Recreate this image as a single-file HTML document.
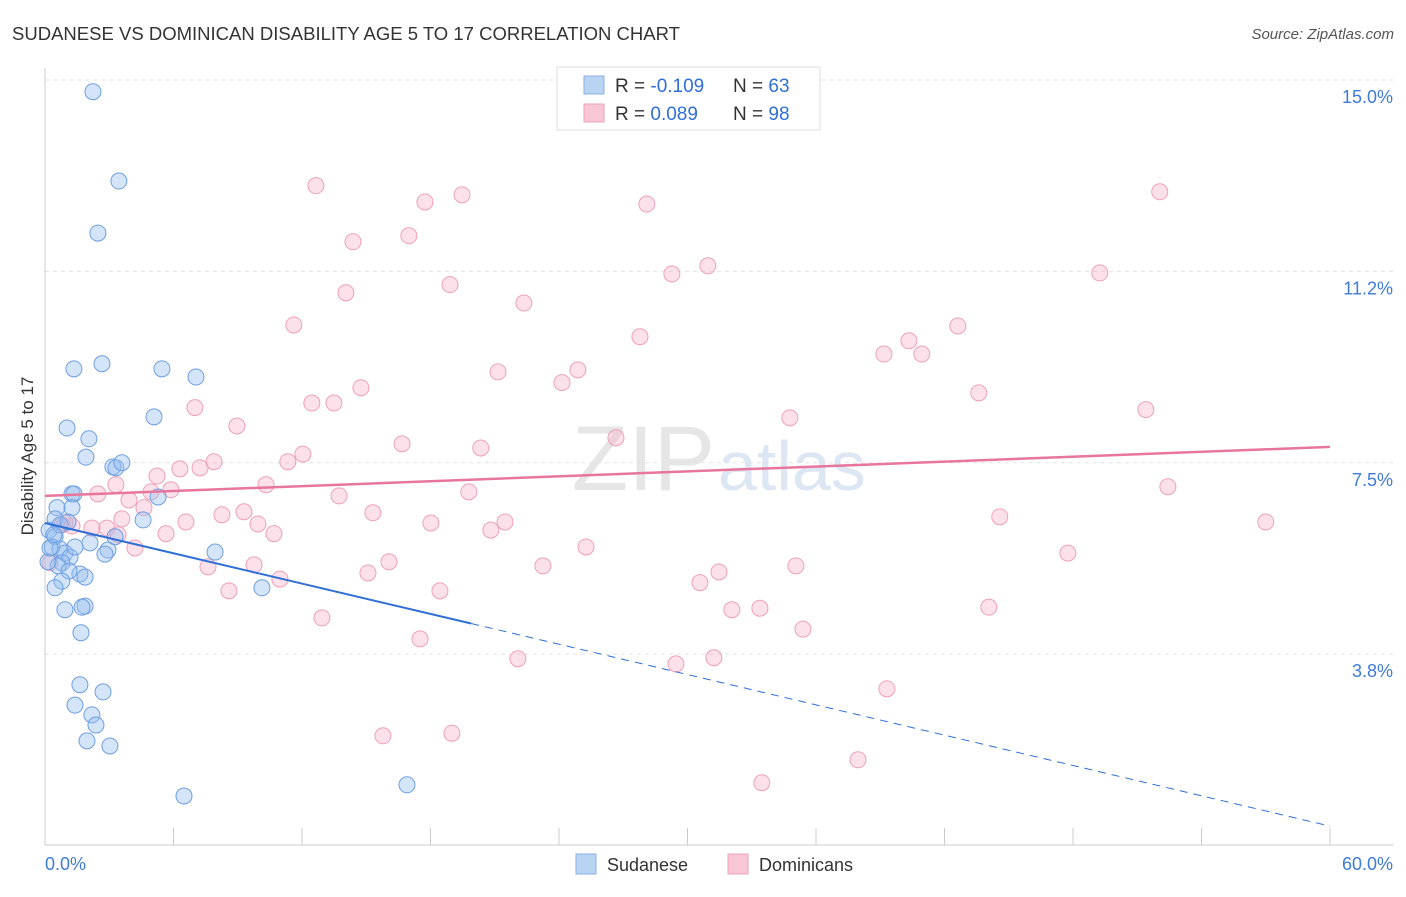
<!DOCTYPE html>
<html><head><meta charset="utf-8"><style>
body{margin:0;background:#fff;font-family:"Liberation Sans",sans-serif}
svg text{font-family:"Liberation Sans",sans-serif}
</style></head><body>
<svg id="chart" width="1406" height="892" xmlns="http://www.w3.org/2000/svg">
<text x="12" y="40" font-size="18" fill="#333" textLength="668" lengthAdjust="spacingAndGlyphs">SUDANESE VS DOMINICAN DISABILITY AGE 5 TO 17 CORRELATION CHART</text>
<text x="1394" y="39" font-size="15" fill="#555" text-anchor="end" font-style="italic">Source: ZipAtlas.com</text>
<text x="715" y="490" font-size="92" fill="#e6e6e6" text-anchor="end" font-family="Liberation Serif">ZIP</text>
<text x="718" y="490" font-size="70" fill="#dde6f3">atlas</text>
<g id="grid"></g>
<g id="axes"></g>
<g id="marks"></g>
<g id="trends"></g>
<text transform="translate(33,456) rotate(-90)" font-size="17" fill="#333" text-anchor="middle">Disability Age 5 to 17</text>
<g>
<rect x="557" y="67" width="263" height="63" fill="#fff" stroke="#ddd"/>
<rect x="584" y="76" width="20" height="18" fill="#b9d3f3" stroke="#8ab2e6"/>
<rect x="584" y="104" width="20" height="18" fill="#f9c6d5" stroke="#eea2ba"/>
<text x="615" y="92" font-size="19" fill="#333">R = <tspan fill="#2f6fd6">-0.109</tspan></text>
<text x="733" y="92" font-size="19" fill="#333">N = <tspan fill="#2f6fd6">63</tspan></text>
<text x="615" y="120" font-size="19" fill="#333">R = <tspan fill="#2f6fd6">  0.089</tspan></text>
<text x="733" y="120" font-size="19" fill="#333">N = <tspan fill="#2f6fd6">98</tspan></text>
</g>
<g>
<rect x="576" y="854" width="20" height="20" fill="#b9d3f3" stroke="#8ab2e6"/>
<text x="607" y="871" font-size="18" fill="#333">Sudanese</text>
<rect x="728" y="854" width="20" height="20" fill="#f9c6d5" stroke="#eea2ba"/>
<text x="759" y="871" font-size="18" fill="#333">Dominicans</text>
</g>
</svg>
<script>
const blueX=[2.24,3.45,2.47,3.17,3.31,3.59,1.35,2.66,5.46,7.05,5.09,1.03,2.05,1.91,1.26,1.35,5.28,4.58,1.26,0.56,0.19,0.47,0.33,0.70,0.93,1.17,0.79,0.61,0.14,2.10,2.94,2.80,1.63,1.87,1.12,0.79,0.47,1.87,1.73,0.93,1.68,7.94,10.13,1.63,2.71,1.40,2.19,2.38,1.96,3.03,6.49,16.9,0.47,0.70,1.07,0.23,1.40,3.27,0.42];
const blueY=[14.77,13.02,12.0,7.42,7.40,7.50,9.34,9.44,9.34,9.18,8.40,8.18,7.97,7.61,6.89,6.89,6.83,6.38,6.62,6.62,6.18,6.05,5.85,5.81,5.73,5.65,5.54,5.48,5.56,5.93,5.79,5.71,5.32,5.26,5.38,5.18,5.05,4.69,4.67,4.62,4.17,5.75,5.05,3.15,3.01,2.75,2.56,2.36,2.05,1.95,0.97,1.19,6.40,6.28,6.34,5.83,5.85,6.05,6.09];
const pinkX=[12.65,17.74,19.47,28.1,52.05,14.38,16.99,18.91,14.05,22.36,29.27,30.95,49.25,11.62,27.78,42.62,39.17,40.34,40.94,21.15,24.88,24.14,14.75,12.46,13.49,7.0,8.96,34.78,43.6,51.4,26.66,16.67,20.35,12.04,11.34,7.89,6.30,5.23,7.24,10.32,3.31,2.47,3.92,4.95,5.88,4.62,13.73,19.79,52.43,3.59,0.93,1.26,2.19,2.89,6.58,8.26,9.29,9.94,10.69,15.31,18.02,20.82,21.48,5.65,3.41,4.20,25.26,44.58,57.0,47.76,7.61,9.76,10.97,15.08,16.06,23.25,31.47,35.06,8.59,18.44,30.58,32.07,33.38,44.07,12.93,17.51,35.39,22.08,29.46,31.23,39.31,15.78,19.0,37.96,33.47,0.79,0.23];
const pinkY=[12.93,12.61,12.75,12.57,12.81,11.83,11.95,10.99,10.83,10.63,11.2,11.36,11.22,10.2,9.97,10.18,9.63,9.89,9.63,9.28,9.32,9.07,8.97,8.67,8.67,8.58,8.22,8.38,8.87,8.54,7.99,7.87,7.79,7.67,7.52,7.52,7.38,7.24,7.40,7.07,7.07,6.89,6.77,6.93,6.97,6.62,6.85,6.93,7.03,6.40,6.32,6.26,6.22,6.22,6.34,6.48,6.54,6.30,6.11,6.52,6.32,6.18,6.34,6.11,6.09,5.83,5.85,6.44,6.34,5.73,5.46,5.50,5.22,5.34,5.56,5.48,5.36,5.48,4.99,4.99,5.15,4.62,4.65,4.67,4.46,4.05,4.24,3.66,3.56,3.68,3.07,2.15,2.20,1.68,1.23,6.28,5.54];
const yTicks=[3.75,7.5,11.25,15];
const yTickLabels=["3.8%","7.5%","11.2%","15.0%"];
const blueTrend=[6.32,0.38];
const pinkTrend=[6.85,7.81];
const blueSolidEnd=19.9;

const NS="http://www.w3.org/2000/svg";
const X=v=>45+v*(1285/60);
const Y=v=>845.5-v*(765.5/15);
function mk(t,a,p){const e=document.createElementNS(NS,t);for(const k in a)e.setAttribute(k,a[k]);p.appendChild(e);return e;}
const grid=document.getElementById('grid'),axes=document.getElementById('axes'),marks=document.getElementById('marks'),trends=document.getElementById('trends');
yTicks.forEach((t,i)=>{
 const l=mk('line',{x1:45,x2:1394,y1:Y(t),y2:Y(t),stroke:'#e2e2e2','stroke-dasharray':'4,4'},grid);
 
 
 const tx=mk('text',{x:1393,y:Y(t)+23,'font-size':18,fill:'#3d7bd8','text-anchor':'end'},axes);
 tx.textContent=yTickLabels[i];
 
 
});
mk('line',{x1:45,x2:45,y1:68,y2:845,stroke:'#ccc'},axes);
mk('line',{x1:45,x2:1394,y1:845,y2:845,stroke:'#ccc'},axes);
for(let i=0;i<=10;i++){const t=mk('line',{x1:X(i*6),x2:X(i*6),y1:828,y2:845,stroke:'#ccc'},axes);
 
 }
const x0=mk('text',{x:45,y:870,'font-size':18,fill:'#3d7bd8'},axes);x0.textContent='0.0%';


const x1=mk('text',{x:1393,y:870,'font-size':18,fill:'#3d7bd8','text-anchor':'end'},axes);x1.textContent='60.0%';


pinkX.forEach((v,i)=>{const c=mk('circle',{cx:X(v),cy:Y(pinkY[i]),r:8,fill:'rgba(246,170,196,0.35)',stroke:'#eea0ba','stroke-width':1},marks);
 
 });
blueX.forEach((v,i)=>{const c=mk('circle',{cx:X(v),cy:Y(blueY[i]),r:8,fill:'rgba(150,190,240,0.4)',stroke:'#6e9fe0','stroke-width':1},marks);
 
 });
const bAt=x=>blueTrend[0]+(blueTrend[1]-blueTrend[0])*x/60;
const b1=mk('line',{x1:X(0),y1:Y(bAt(0)),x2:X(blueSolidEnd),y2:Y(bAt(blueSolidEnd)),stroke:'#2f6fd6','stroke-width':2},trends);


const b2=mk('line',{x1:X(blueSolidEnd),y1:Y(bAt(blueSolidEnd)),x2:X(60),y2:Y(bAt(60)),stroke:'#2f6fd6','stroke-width':1,'stroke-dasharray':'8,6'},trends);


const p1=mk('line',{x1:X(0),y1:Y(pinkTrend[0]),x2:X(60),y2:Y(pinkTrend[1]),stroke:'#e8769c','stroke-width':2.5},trends);


</script>
</body></html>
